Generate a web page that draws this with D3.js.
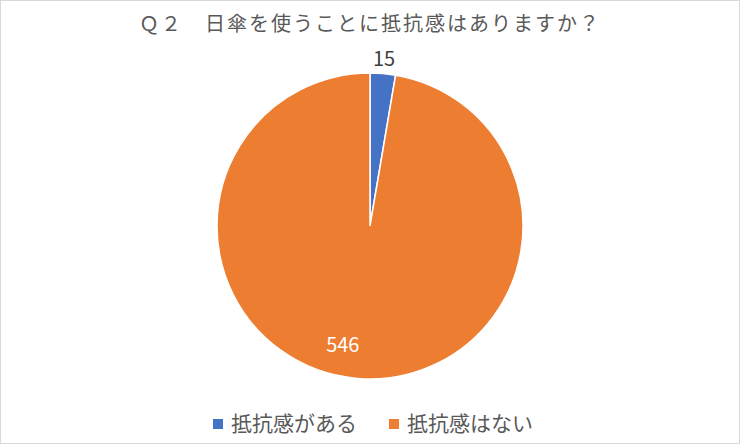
<!DOCTYPE html>
<html>
<head>
<meta charset="utf-8">
<script src="https://cdn.jsdelivr.net/npm/d3@7"></script>
<style>
  html, body { margin: 0; padding: 0; background: #fff; }
  svg { display: block; }
</style>
</head>
<body>
<div id="chart"></div>
<script>
const title = "Ｑ２　日傘を使うことに抵抗感はありますか？";
const categories = ["抵抗感がある", "抵抗感はない"];
const values = [15, 546];
const colors = ["#4472C4", "#ED7D31"];

const width = 740;
const height = 445;
const font = "'Noto Sans CJK JP', 'Noto Sans', sans-serif";

let svg = d3
  .select("#chart")
  .append("svg")
  .attr("width", width)
  .attr("height", height);

// outer border
svg
  .append("rect")
  .attr("x", 0.5)
  .attr("y", 0.5)
  .attr("width", width - 1)
  .attr("height", height - 2)
  .attr("fill", "white")
  .attr("stroke", "#d9d9d9");

svg
  .append("text")
  .text(title)
  .attr("x", width / 2)
  .attr("y", 31)
  .attr("text-anchor", "middle")
  .attr("fill", "#595959")
  .style("font-family", font)
  .style("font-size", "20px")
  .style("letter-spacing", "2px");

const cx = 370;
const cy = 226;
const radius = 153;

let pie = d3.pie().sort(null).value((d) => d);
let arcs = pie(values);
let arc = d3.arc().innerRadius(0).outerRadius(radius);

let g = svg.append("g").attr("transform", "translate(" + cx + ", " + cy + ")");

g.selectAll("path")
  .data(arcs)
  .enter()
  .append("path")
  .attr("d", arc)
  .attr("fill", (d, i) => colors[i])
  .attr("stroke", "white")
  .attr("stroke-width", 1.5);

// data labels: small slice outside, large slice inside (best fit)
let labelPos = (d, i) => {
  let mid = (d.startAngle + d.endAngle) / 2;
  let r = i === 0 ? radius + 15 : radius * 0.8;
  let a = i === 0 ? mid : mid + 0.14;
  return [Math.sin(a) * r, -Math.cos(a) * r];
};

g.selectAll("text.label")
  .data(arcs)
  .enter()
  .append("text")
  .attr("class", "label")
  .text((d) => d.data)
  .attr("x", (d, i) => labelPos(d, i)[0])
  .attr("y", (d, i) => labelPos(d, i)[1])
  .attr("dy", "0.35em")
  .attr("text-anchor", "middle")
  .attr("fill", (d, i) => (i === 0 ? "#404040" : "white"))
  .style("font-family", font)
  .style("font-size", "20px");

// legend
let legendX = [213, 389];
let legend = svg
  .selectAll("g.legend")
  .data(categories)
  .enter()
  .append("g")
  .attr("class", "legend")
  .attr("transform", (d, i) => "translate(" + legendX[i] + ", 424)");

legend
  .append("rect")
  .attr("x", 0)
  .attr("y", -5)
  .attr("width", 10)
  .attr("height", 10)
  .attr("fill", (d, i) => colors[i]);

legend
  .append("text")
  .text((d) => d)
  .attr("x", 18)
  .attr("y", 0)
  .attr("dy", "0.35em")
  .attr("fill", "#595959")
  .style("font-family", font)
  .style("font-size", "21px");
</script>
</body>
</html>
